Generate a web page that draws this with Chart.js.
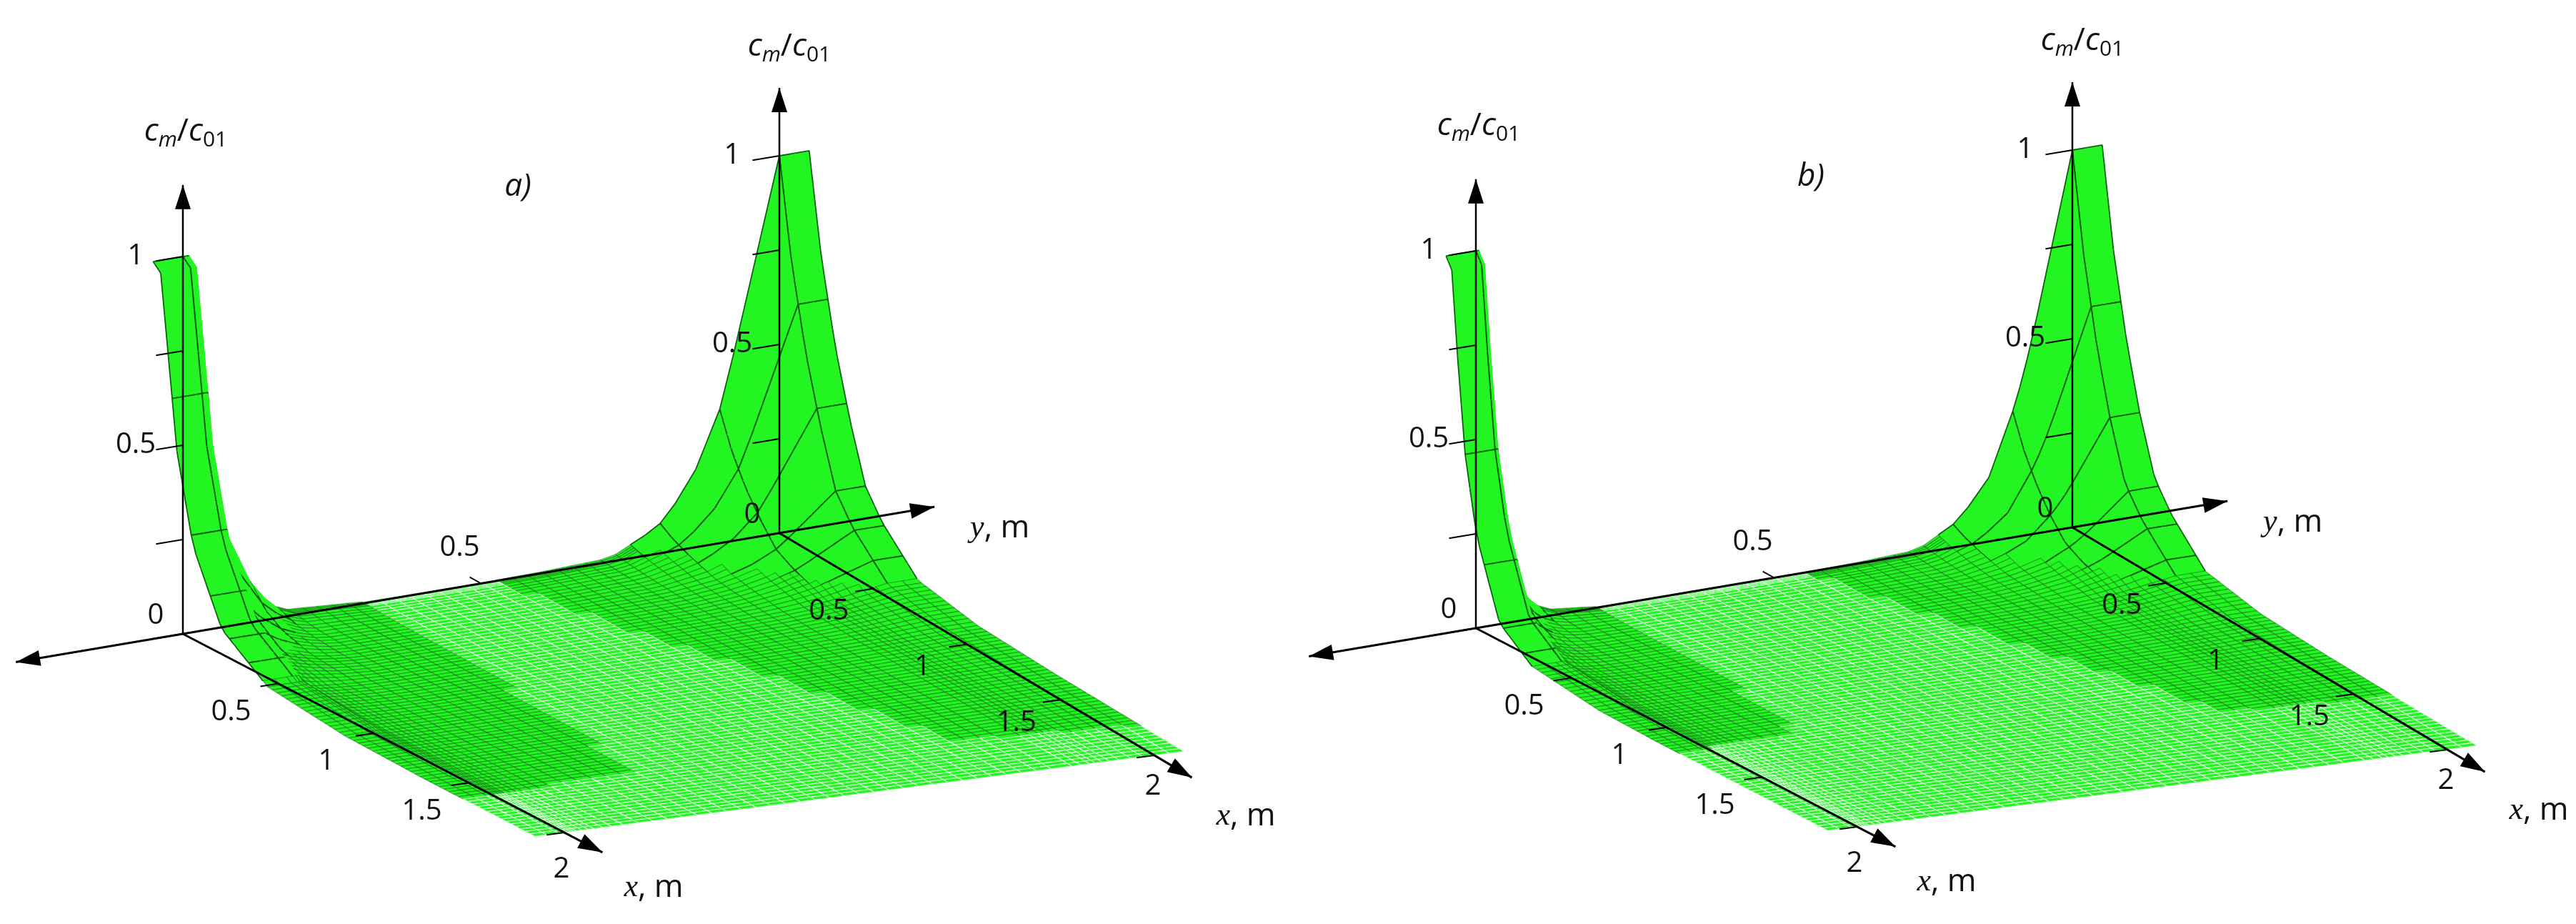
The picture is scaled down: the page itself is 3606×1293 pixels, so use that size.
<!DOCTYPE html>
<html>
<head>
<meta charset="utf-8">
<script src="https://cdn.jsdelivr.net/npm/chart.js@4.4.0/dist/chart.umd.min.js"></script>
<style>
  html, body { margin: 0; padding: 0; background: #fff; }
  #wrap { width: 3606px; height: 1293px; }
</style>
</head>
<body>
<div id="wrap"><canvas id="surf"></canvas></div>
<script>
// profiles (distance -> c_m/c_01)
const panels = ['a)', 'b)'];
// panel a
const aLeftY = [-0.05, 0.01, 0.017, 0.031, 0.065, 0.107, 0.16, 0.3, 0.45, 0.6];
const aLeftYv = [1, 1, 0.58, 0.42, 0.25, 0.1, 0.02, 0.005, 0.001, 0];
const aLeftX = [0, 0.04, 0.08, 0.125, 0.21, 0.36, 0.6, 1.0, 1.4, 2.0];
const aLeftXv = [1, 0.98, 0.77, 0.53, 0.3, 0.12, 0.03, 0.006, 0.001, 0];
const aRightY = [0.3, 0.5, 0.6, 0.716, 0.795, 0.85, 0.9, 0.924, 1.0, 1.05];
const aRightYv = [0, 0.001, 0.004, 0.01, 0.07, 0.17, 0.355, 0.5, 1, 1];
const aRightX = [0, 0.064, 0.14, 0.218, 0.3, 0.39, 0.58, 0.9, 1.3, 1.8, 2.0];
const aRightXv = [1, 0.74, 0.52, 0.35, 0.2, 0.13, 0.034, 0.008, 0.002, 0.0005, 0.0003];
// edges of the dark (densely meshed) zones on the flat part
const aDarkLeftX = [0, 0.5, 1, 1.6, 1.7];
const aDarkLeftY = [0.3, 0.3, 0.28, 0.25, -1];
const aDarkRightX = [0, 0.5, 1, 1.7, 1.8];
const aDarkRightY = [0.52, 0.58, 0.66, 0.76, 1.2];
// panel b
const bLeftY = [-0.05, 0.005, 0.01, 0.02, 0.04, 0.07, 0.11, 0.2, 0.35, 0.5];
const bLeftYv = [1, 1, 0.6, 0.42, 0.22, 0.08, 0.02, 0.004, 0.0008, 0];
const bLeftX = [0, 0.03, 0.06, 0.1, 0.16, 0.28, 0.45, 0.8, 1.1, 1.6];
const bLeftXv = [1, 0.97, 0.75, 0.5, 0.3, 0.1, 0.03, 0.005, 0.001, 0];
const bRightY = [0.4, 0.55, 0.65, 0.74, 0.81, 0.86, 0.905, 0.93, 1.0, 1.05];
const bRightYv = [0, 0.001, 0.004, 0.01, 0.07, 0.17, 0.355, 0.5, 1, 1];
const bRightX = [0, 0.06, 0.13, 0.2, 0.28, 0.37, 0.55, 0.85, 1.2, 1.7, 2.0];
const bRightXv = [1, 0.74, 0.52, 0.35, 0.2, 0.13, 0.034, 0.008, 0.002, 0.0005, 0.0003];
const bDarkLeftX = [0, 0.5, 1.0, 1.2, 1.3];
const bDarkLeftY = [0.2, 0.2, 0.18, 0.15, -1];
const bDarkRightX = [0, 0.5, 1, 1.5, 1.6];
const bDarkRightY = [0.55, 0.62, 0.7, 0.78, 1.2];

const zTicks = [0, 0.25, 0.5, 0.75, 1];
const zLabels = ['0', '0.5', '1'];
const xTicks = [0.5, 1, 1.5, 2];
const xTickLabels = ['0.5', '1', '1.5', '2'];
const yTickLabels = ['0.5'];

const profiles = [
    { lx: aLeftX, lxv: aLeftXv, ly: aLeftY, lyv: aLeftYv, rx: aRightX, rxv: aRightXv, ry: aRightY, ryv: aRightYv,
      dlx: aDarkLeftX, dly: aDarkLeftY, drx: aDarkRightX, dry: aDarkRightY },
    { lx: bLeftX, lxv: bLeftXv, ly: bLeftY, lyv: bLeftYv, rx: bRightX, rxv: bRightXv, ry: bRightY, ryv: bRightYv,
      dlx: bDarkLeftX, dly: bDarkLeftY, drx: bDarkRightX, dry: bDarkRightY }
];

function lookup(xs, vs, t) {
    if (t <= xs[0]) return vs[0];
    for (let i = 1; i < xs.length; i++) {
        if (t <= xs[i]) {
            const f = (t - xs[i - 1]) / (xs[i] - xs[i - 1]);
            return vs[i - 1] + f * (vs[i] - vs[i - 1]);
        }
    }
    return vs[vs.length - 1];
}

function height(p, x, y) {
    return lookup(p.lx, p.lxv, x) * lookup(p.ly, p.lyv, y) +
        lookup(p.rx, p.rxv, x) * lookup(p.ry, p.ryv, y);
}

// mesh nodes
const xNodes = [0, 0.01, 0.02, 0.03, 0.04, 0.06, 0.08, 0.1];
for (let v = 0.125; v <= 2.0001; v += 0.025) xNodes.push(+v.toFixed(3));
const yNodes = [-0.05, -0.03, -0.01, 0, 0.005, 0.01, 0.015, 0.02, 0.03, 0.04, 0.05, 0.065, 0.08, 0.1];
for (let v = 0.125; v <= 0.85; v += 0.025) yNodes.push(+v.toFixed(3));
[0.86, 0.875, 0.89, 0.9, 0.912, 0.924, 0.94, 0.96, 0.98, 1.0, 1.025, 1.05].forEach(v => yNodes.push(v));
// coarse wire lines drawn on the steep walls
const isCoarseX = v => Math.abs(v * 10 - Math.round(v * 10)) < 1e-6;
const isCoarseY = v => Math.abs(v * 20 - Math.round(v * 20)) < 1e-6;

// projection (pixel space of the page)
const offsets = [[0, 0], [1810, -8]];
function proj(k, x, y, z) {
    return {
        x: 256 + offsets[k][0] + x * (267 - 4.5 * y) + y * 835,
        y: 887 + offsets[k][1] + x * (139 + 16.5 * y) - y * 141 - z * 528
    };
}

function line(k, pts, width) {
    return {
        type: 'line',
        data: pts.map(p => proj(k, p[0], p[1], p[2])),
        borderColor: '#000',
        borderWidth: width || 3,
        pointRadius: 0,
        fill: false,
        tension: 0
    };
}

const datasets = [];
for (let k = 0; k < 2; k++) {
    datasets.push(line(k, [[0, -0.28, 0], [0, 1.26, 0]]));
    datasets.push(line(k, [[0, 0, 0], [2.2, 0, 0]]));
    datasets.push(line(k, [[0, 1, 0], [2.2, 1, 0]]));
    datasets.push(line(k, [[0, 0, 0], [0, 0, 1.19]], 2.5));
    datasets.push(line(k, [[0, 1, 0], [0, 1, 1.18]], 2.5));
    zTicks.forEach(t => {
        datasets.push(line(k, [[0, -0.045, t], [0, 0, t]], 2));
        datasets.push(line(k, [[0, 0.955, t], [0, 1, t]], 2));
    });
    xTicks.forEach(t => {
        datasets.push(line(k, [[t, -0.03, 0], [t, 0.0, 0]], 2));
        datasets.push(line(k, [[t, 0.97, 0], [t, 1.0, 0]], 2));
    });
    datasets.push(line(k, [[-0.06, 0.5, 0], [0, 0.5, 0]], 2));
}

const surfacePlugin = {
    id: 'surface',
    beforeDatasetsDraw(chart) {
        const { ctx, scales } = chart;
        const px = p => [scales.x.getPixelForValue(p.x), scales.y.getPixelForValue(p.y)];
        for (let k = 0; k < 2; k++) {
            const p = profiles[k];
            const Z = yNodes.map(y => xNodes.map(x => height(p, x, y)));
            const quads = [];
            for (let j = 0; j < yNodes.length - 1; j++) {
                for (let i = 0; i < xNodes.length - 1; i++) {
                    const c = [[i, j], [i + 1, j], [i + 1, j + 1], [i, j + 1]];
                    const zmax = Math.max(...c.map(q => Z[q[1]][q[0]]));
                    const xm = (xNodes[i] + xNodes[i + 1]) / 2, ym = (yNodes[j] + yNodes[j + 1]) / 2;
                    const dark = ym < lookup(p.dlx, p.dly, xm) || ym > lookup(p.drx, p.dry, xm);
                    quads.push({
                        depth: xm - ym,
                        pts: c.map(q => px(proj(k, xNodes[q[0]], yNodes[q[1]], Z[q[1]][q[0]]))),
                        edges: [isCoarseY(yNodes[j]), isCoarseX(xNodes[i + 1]), isCoarseY(yNodes[j + 1]), isCoarseX(xNodes[i])],
                        kind: zmax > 0.04 ? 'wall' : (dark ? 'dark' : 'flat')
                    });
                }
            }
            quads.sort((a, b) => a.depth - b.depth);
            ctx.save();
            ctx.lineJoin = 'round';
            quads.forEach(q => {
                ctx.beginPath();
                ctx.moveTo(q.pts[0][0], q.pts[0][1]);
                for (let n = 1; n < 4; n++) ctx.lineTo(q.pts[n][0], q.pts[n][1]);
                ctx.closePath();
                ctx.fillStyle = '#22f522';
                ctx.fill();
                if (q.kind === 'wall') {
                    ctx.lineWidth = 1;
                    ctx.strokeStyle = '#22f522';
                    ctx.stroke();
                    ctx.lineWidth = 1.8;
                    ctx.strokeStyle = 'rgba(0,50,0,0.75)';
                    ctx.beginPath();
                    for (let n = 0; n < 4; n++) {
                        if (!q.edges[n]) continue;
                        const a = q.pts[n], b = q.pts[(n + 1) % 4];
                        ctx.moveTo(a[0], a[1]);
                        ctx.lineTo(b[0], b[1]);
                    }
                    ctx.stroke();
                } else {
                    ctx.lineWidth = 1.3;
                    ctx.strokeStyle = q.kind === 'dark' ? 'rgba(0,70,0,0.38)' : 'rgba(255,255,255,0.6)';
                    ctx.stroke();
                }
            });
            ctx.restore();
        }
    },
    afterDatasetsDraw(chart) {
        const { ctx, scales } = chart;
        const px = p => [scales.x.getPixelForValue(p.x), scales.y.getPixelForValue(p.y)];
        const arrow = (k, a, b) => {
            const A = px(proj(k, ...a)), B = px(proj(k, ...b));
            const ang = Math.atan2(B[1] - A[1], B[0] - A[0]);
            const L = 34, W = 11;
            ctx.beginPath();
            ctx.moveTo(B[0], B[1]);
            ctx.lineTo(B[0] - L * Math.cos(ang) + W * Math.sin(ang), B[1] - L * Math.sin(ang) - W * Math.cos(ang));
            ctx.lineTo(B[0] - L * Math.cos(ang) - W * Math.sin(ang), B[1] - L * Math.sin(ang) + W * Math.cos(ang));
            ctx.closePath();
            ctx.fillStyle = '#000';
            ctx.fill();
        };
        const tick = '"Liberation Sans Narrow", "Open Sans", sans-serif';
        const text = (s, x, y, font, align) => {
            ctx.font = font;
            ctx.textAlign = align || 'center';
            ctx.textBaseline = 'middle';
            ctx.fillStyle = '#111';
            ctx.fillText(s, x, y);
        };
        const ratio = (x, y) => {
            // c_m / c_01
            ctx.textBaseline = 'alphabetic';
            ctx.fillStyle = '#111';
            const big = 'italic 44px "Open Sans", sans-serif';
            const sub = 'italic 30px "Open Sans", sans-serif';
            const subU = '30px "Open Sans", sans-serif';
            const parts = [['c', big, 0], ['m', sub, 8], ['/', '44px "Open Sans", sans-serif', 0], ['c', big, 0], ['01', subU, 8]];
            let w = 0;
            parts.forEach(q => { ctx.font = q[1]; w += ctx.measureText(q[0]).width; });
            let cx = x - w / 2;
            ctx.textAlign = 'left';
            parts.forEach(q => {
                ctx.font = q[1];
                ctx.fillText(q[0], cx, y + q[2]);
                cx += ctx.measureText(q[0]).width;
            });
        };
        const axisName = (v, x, y) => {
            ctx.textBaseline = 'middle';
            ctx.textAlign = 'left';
            ctx.fillStyle = '#111';
            ctx.font = 'italic 44px "Liberation Serif", serif';
            ctx.fillText(v, x, y);
            const w = ctx.measureText(v).width;
            ctx.font = '44px "Open Sans", sans-serif';
            ctx.fillText(', m', x + w, y);
        };
        for (let k = 0; k < 2; k++) {
            arrow(k, [0, 0, 0], [0, -0.28, 0]);
            arrow(k, [0, 0, 0], [0, 1.26, 0]);
            arrow(k, [0, 0, 0], [2.2, 0, 0]);
            arrow(k, [0, 1, 0], [2.2, 1, 0]);
            arrow(k, [0, 0, 0], [0, 0, 1.19]);
            arrow(k, [0, 1, 0], [0, 1, 1.18]);
            const f = '40px ' + tick;
            [0, 1].forEach(yy => {
                [[0.5, '0.5'], [1, '1']].forEach(t => {
                    const P = px(proj(k, 0, yy, t[0]));
                    text(t[1], P[0] - 66, P[1], f);
                });
                const O = px(proj(k, 0, yy, 0));
                text(zLabels[0], O[0] - 38, O[1] - 25, f);
            });
            xTicks.forEach((t, i) => {
                const P = px(proj(k, t, 0, 0));
                if (i === 3) text(xTickLabels[i], P[0] - 4, P[1] + 52, f);
                else text(xTickLabels[i], P[0] - 66, P[1] + 40, f);
                const Q = px(proj(k, t, 1, 0));
                if (i === 3) text(xTickLabels[i], Q[0] - 2, Q[1] + 44, f);
                else text(xTickLabels[i], Q[0] - 62, Q[1] + 32, f);
            });
            const Y = px(proj(k, 0, 0.5, 0));
            text(yTickLabels[0], Y[0] - 30, Y[1] - 50, f);
            const T1 = px(proj(k, 0, 0, 1.19)), T2 = px(proj(k, 0, 1, 1.18));
            ratio(T1[0] + 4, T1[1] - 62);
            ratio(T2[0] + 14, T2[1] - 45);
            const XL = px(proj(k, 2.2, 0, 0)), XR = px(proj(k, 2.2, 1, 0)), YE = px(proj(k, 0, 1.26, 0));
            axisName('x', XL[0] + 30, XL[1] + 50);
            axisName('x', XR[0] + 34, XR[1] + 54);
            axisName('y', YE[0] + 50, YE[1] + 30);
            const L = px({ x: [725, 2535][k], y: [261, 247][k] });
            text(panels[k], L[0], L[1], 'italic 44px "Open Sans", sans-serif');
        }
    }
};

new Chart(document.getElementById('surf'), {
    type: 'scatter',
    data: { datasets: datasets },
    plugins: [surfacePlugin],
    options: {
        responsive: true,
        maintainAspectRatio: false,
        animation: false,
        layout: { padding: 0 },
        plugins: { legend: { display: false }, tooltip: { enabled: false } },
        scales: {
            x: { type: 'linear', min: 0, max: 3606, display: false },
            y: { type: 'linear', min: 0, max: 1293, reverse: true, display: false }
        }
    }
});
</script>
</body>
</html>
